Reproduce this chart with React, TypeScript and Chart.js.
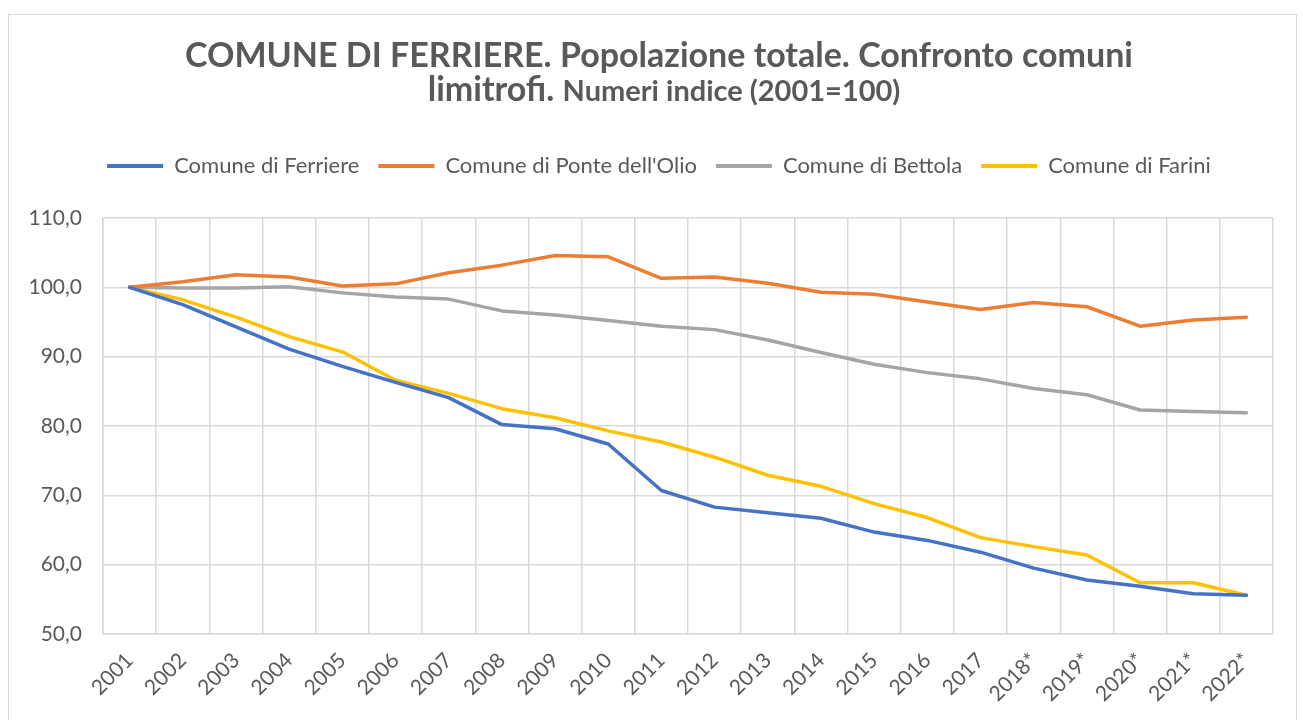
import React, { useEffect, useRef } from 'react';
import { Chart, registerables } from 'chart.js';

Chart.register(...registerables);

const years = ['2001', '2002', '2003', '2004', '2005', '2006', '2007', '2008', '2009', '2010', '2011', '2012', '2013', '2014', '2015', '2016', '2017', '2018*', '2019*', '2020*', '2021*', '2022*'];
const ferriere = [100, 97.5, 94.3, 91.1, 88.6, 86.3, 84.1, 80.2, 79.6, 77.4, 70.7, 68.3, 67.5, 66.7, 64.7, 63.5, 61.8, 59.5, 57.8, 56.9, 55.8, 55.6];
const ponteOlio = [100, 100.8, 101.8, 101.5, 100.2, 100.5, 102.1, 103.2, 104.6, 104.4, 101.3, 101.5, 100.6, 99.3, 99.0, 97.9, 96.8, 97.8, 97.2, 94.4, 95.3, 95.7];
const bettola = [100, 99.9, 99.9, 100.1, 99.2, 98.6, 98.3, 96.6, 96.0, 95.2, 94.4, 93.9, 92.4, 90.6, 88.9, 87.7, 86.8, 85.4, 84.5, 82.3, 82.1, 81.9];
const farini = [100, 98.2, 95.7, 92.9, 90.7, 86.6, 84.7, 82.5, 81.2, 79.3, 77.7, 75.5, 72.9, 71.3, 68.8, 66.8, 63.9, 62.6, 61.4, 57.4, 57.4, 55.6];

const seriesNames = ['Comune di Ferriere', "Comune di Ponte dell'Olio", 'Comune di Bettola', 'Comune di Farini'];
const seriesColors = ['#4472C4', '#ED7D31', '#A5A5A5', '#FFC000'];

const titleLine1 = 'COMUNE DI FERRIERE. Popolazione totale. Confronto comuni';
const titleLine2a = 'limitrofi. ';
const titleLine2b = 'Numeri indice (2001=100)';

const FONT = 'Lato, "Noto Sans", sans-serif';
const TEXT = '#595959';
const GRID = '#d9d9d9';

const titlePlugin = {
  id: 'customTitle',
  beforeLayout(chart: any) {
    const lg = chart.legend;
    if (lg && !lg.__patched) {
      const origFit = lg.fit.bind(lg);
      lg.fit = function () {
        origFit();
        this.height += 31;
      };
      const origDraw = lg.draw.bind(lg);
      lg.draw = function () {
        const c = this.ctx;
        c.save();
        c.translate(18, 0);
        origDraw();
        c.restore();
      };
      lg.__patched = true;
    }
  },
  afterDraw(chart: any) {
    const ctx = chart.ctx;
    ctx.save();
    ctx.fillStyle = TEXT;
    ctx.textBaseline = 'alphabetic';
    ctx.textAlign = 'center';
    ctx.font = `bold 34px ${FONT}`;
    ctx.fillText(titleLine1, 650, 52);
    const wA = ctx.measureText(titleLine2a).width;
    ctx.font = `bold 29px ${FONT}`;
    const wB = ctx.measureText(titleLine2b).width;
    const start = 655 - (wA + wB) / 2;
    ctx.textAlign = 'left';
    ctx.font = `bold 34px ${FONT}`;
    ctx.fillText(titleLine2a, start, 86);
    ctx.font = `bold 29px ${FONT}`;
    ctx.fillText(titleLine2b, start + wA, 86);
    ctx.restore();
  },
};

export default function App() {
  const ref = useRef<HTMLCanvasElement>(null);

  useEffect(() => {
    if (!ref.current) return;
    const data = [ferriere, ponteOlio, bettola, farini];
    const chart = new Chart(ref.current, {
      type: 'line',
      data: {
        labels: years,
        datasets: data.map((d, i) => ({
          label: seriesNames[i],
          data: d,
          borderColor: seriesColors[i],
          backgroundColor: seriesColors[i],
          borderWidth: 3.5,
          pointRadius: 0,
          pointHoverRadius: 0,
          tension: 0,
          borderCapStyle: 'round',
          borderJoinStyle: 'round',
        })),
      },
      options: {
        responsive: false,
        animation: false,
        devicePixelRatio: 1,
        layout: { padding: { top: 121, right: 23, bottom: 0, left: 0 } },
        plugins: {
          title: { display: false },
          tooltip: { enabled: false },
          legend: {
            display: true,
            position: 'top',
            labels: {
              boxWidth: 56,
              boxHeight: 4,
              padding: 19,
              color: TEXT,
              font: { family: FONT, size: 22 },
              generateLabels: (c: any) => {
                const items = Chart.defaults.plugins.legend.labels.generateLabels(c);
                return items.map((it: any) => ({ ...it, fillStyle: it.strokeStyle, lineWidth: 0 }));
              },
            },
          },
        },
        scales: {
          x: {
            offset: true,
            grid: { offset: true, color: GRID, lineWidth: 1.5, drawTicks: false },
            border: { color: GRID, width: 1.5 },
            ticks: {
              color: TEXT,
              font: { family: FONT, size: 21 },
              maxRotation: 45,
              minRotation: 45,
              autoSkip: false,
              padding: 14,
            },
            afterFit: (s: any) => {
              s.height = 86;
            },
          },
          y: {
            min: 50,
            max: 110,
            grid: { color: GRID, lineWidth: 1.5, drawTicks: false },
            border: { color: GRID, width: 1.5 },
            ticks: {
              stepSize: 10,
              color: TEXT,
              font: { family: FONT, size: 21 },
              padding: 21,
              callback: (v: any) => Number(v).toFixed(1).replace('.', ','),
            },
            afterFit: (s: any) => {
              s.width = 94;
            },
          },
        },
      },
      plugins: [titlePlugin],
    } as any);
    return () => chart.destroy();
  }, []);

  return (
    <div
      style={{
        position: 'fixed',
        left: 8,
        top: 14,
        width: 1289,
        height: 720,
        boxSizing: 'border-box',
        border: '1px solid #d9d9d9',
        background: '#fff',
      }}
    >
      <canvas ref={ref} width={1287} height={705} style={{ display: 'block' }} />
    </div>
  );
}
